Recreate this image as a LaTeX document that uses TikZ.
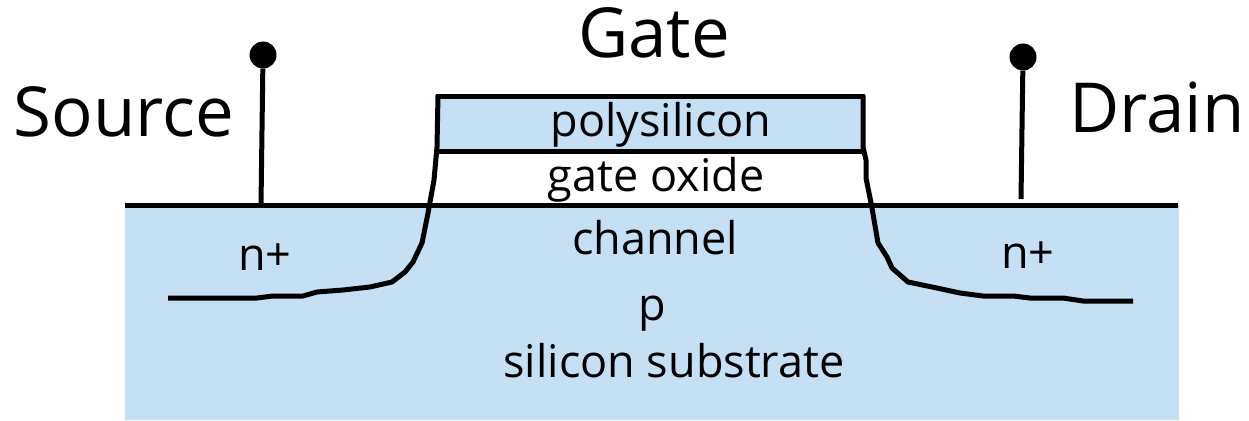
\documentclass[tikz,border=0pt]{standalone}
\usepackage{fontspec}
\setmainfont{Open Sans}
\definecolor{sub}{RGB}{196,224,242}
\tikzset{
  px/.style={x=1pt,y=-1pt},
  lbl/.style={inner sep=0pt,anchor=base,font=\fontsize{45}{45}\selectfont},
  big/.style={inner sep=0pt,anchor=base,font=\fontsize{69}{69}\selectfont},
  ln/.style={line width=5pt,black},
  term/.style={circle,fill=black,inner sep=0pt,minimum size=27pt}
}
\begin{document}
\begin{tikzpicture}[px]
\useasboundingbox (0,0) rectangle (1249,420);
\fill[white] (0,0) rectangle (1249,420);
\fill[sub] (125,205) rectangle (1179,420);
\fill[sub] (438,96) rectangle (863,151);
\draw[ln,line cap=butt] (436,96) -- (865,96);
\draw[ln] (438,151) -- (863,151);
\draw[ln] (125,205) -- (1178,205);
\draw[ln,line join=round] (438,95) -- (437,147) -- (434,180) -- (428,213) -- (422,243) -- (413,262) -- (405,272) -- (392,282) -- (370,287) -- (343,290) -- (317,292) -- (303,296) -- (273,296) -- (257,298) -- (168,298);
\draw[ln,line join=round] (863,95) -- (863,147) -- (866,160) -- (866,178) -- (872,208) -- (878,243) -- (887,257) -- (892,268) -- (908,282) -- (932,287) -- (960,293) -- (983,296) -- (1013,296) -- (1030,298) -- (1063,298) -- (1083,301) -- (1133,301);
\node[term] (s) at (263,55) {};
\node[term] (d) at (1023,57) {};
\coordinate (sb) at (261,205);
\coordinate (db) at (1021,199);
\draw[ln] (s) -- (sb);
\draw[ln] (d) -- (db);
\node[big] (gate) at (654,57) {Gate};
\node[big] (source) at (124,136) {Source};
\node[big] (drain) at (1157,132) {Drain};
\node[lbl] (poly) at (661,136) {polysilicon};
\node[lbl] (ox) at (656,191) {gate oxide};
\node[lbl] (ch) at (655,254) {channel};
\node[lbl] (p) at (652,320) {p};
\node[lbl] (si) at (674,377) {silicon substrate};
\node[lbl] (n1) at (265,270) {n+};
\node[lbl] (n2) at (1028,268) {n+};
\end{tikzpicture}
\end{document}
